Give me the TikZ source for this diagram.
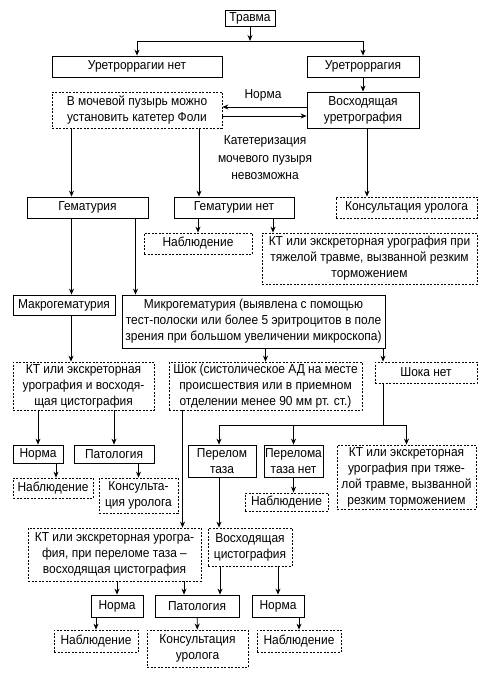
\documentclass[tikz,border=0pt]{standalone}
\usepackage{fontspec}
\setmainfont[FakeStretch=0.92]{Liberation Sans}
\usetikzlibrary{arrows.meta, positioning}

\begin{document}
\begin{tikzpicture}[x=1pt, y=-1pt, font=\fontsize{13}{16}\selectfont, box/.style={draw, align=center, inner sep=0pt, line width=0.8pt}, dbox/.style={box, dash pattern=on 2pt off 1.5pt}, arrow/.style={-{Stealth[length=6pt, width=5pt]}, line width=0.8pt}, lbl/.style={align=center, inner sep=0pt}]
\path[use as bounding box, fill=white] (0,0) rectangle (484,676);

\node[box, minimum width=50pt, minimum height=16pt] (trauma) at (250,18) {Травма};
\coordinate (split1) at (250,41);
\node[box, minimum width=170pt, minimum height=21pt] (noure) at (137,66.5) {Уретроррагии нет};
\node[box, minimum width=112pt, minimum height=21pt] (ure) at (363,66.5) {Уретроррагия};
\node[dbox, minimum width=170pt, minimum height=36pt] (foley) at (137,110) {В мочевой пузырь можно\\установить катетер Фоли};
\node[box, minimum width=112pt, minimum height=36pt] (urethro) at (363,110) {Восходящая\\уретрография};
\node[lbl] (norma0) at (263,95) {Норма};
\node[lbl, font=\fontsize{13}{17.5}\selectfont] (nocath) at (265,158) {Катетеризация\\мочевого пузыря\\невозможна};
\node[box, minimum width=121pt, minimum height=21pt] (gem) at (87.5,207.5) {Гематурия};
\node[box, minimum width=120pt, minimum height=21pt] (nogem) at (234,207.5) {Гематурии нет};
\node[dbox, minimum width=141pt, minimum height=21pt] (consult1) at (406.5,207.5) {Консультация уролога};
\node[dbox, minimum width=108pt, minimum height=21pt] (obs1) at (198,243.5) {Наблюдение};
\node[dbox, minimum width=215pt, minimum height=51pt] (ct1) at (369.5,258.5) {КТ или экскреторная урография при\\тяжелой травме, вызванной резким\\торможением};
\node[box, minimum width=102pt, minimum height=20pt] (macro) at (64,305) {Макрогематурия};
\node[box, minimum width=263pt, minimum height=53pt] (micro) at (253.5,321.5) {Микрогематурия (выявлена с помощью\\тест-полоски или более 5 эритроцитов в поле\\зрения при большом увеличении микроскопа)};
\node[dbox, minimum width=141pt, minimum height=48pt] (ct2) at (83.5,386) {КТ или экскреторная\\урография и восходя-\\щая цистография};
\node[dbox, minimum width=193pt, minimum height=48pt] (shock) at (265.5,386) {Шок (систолическое АД на месте\\происшествия или в приемном\\отделении менее 90 мм рт. ст.)};
\node[dbox, minimum width=102pt, minimum height=21pt] (noshock) at (426,372.5) {Шока нет};
\coordinate (split2) at (383,425);
\node[box, minimum width=50pt, minimum height=18pt] (norm1) at (38,454) {Норма};
\node[box, minimum width=80pt, minimum height=18pt] (path1) at (114,454) {Патология};
\node[dbox, minimum width=80pt, minimum height=20pt] (obs2) at (53,488) {Наблюдение};
\node[dbox, minimum width=79pt, minimum height=35pt] (consult2) at (138.5,495.5) {Консульта-\\ция уролога};
\node[box, minimum width=68pt, minimum height=32pt] (pelvis) at (222,461) {Перелом\\таза};
\node[box, minimum width=59pt, minimum height=32pt] (nopelvis) at (293.5,461) {Перелома\\таза нет};
\node[dbox, minimum width=83pt, minimum height=18pt] (obs3) at (286.5,502) {Наблюдение};
\node[dbox, minimum width=139pt, minimum height=64pt] (ct3) at (406.5,477) {КТ или экскреторная\\урография при тяже-\\лой травме, вызванной\\резким торможением};
\node[dbox, minimum width=173pt, minimum height=53pt] (ct4) at (114.5,554.5) {КТ или экскреторная урогра-\\фия, при переломе таза –\\восходящая цистография};
\node[dbox, minimum width=84pt, minimum height=38pt] (cysto) at (250,547) {Восходящая\\цистография};
\node[box, minimum width=52pt, minimum height=22pt] (norm2) at (117,606) {Норма};
\node[box, minimum width=84pt, minimum height=22pt] (path2) at (197,606) {Патология};
\node[box, minimum width=52pt, minimum height=22pt] (norm3) at (278,606) {Норма};
\node[dbox, minimum width=84pt, minimum height=22pt] (obs4) at (96,641) {Наблюдение};
\node[dbox, minimum width=101pt, minimum height=37pt] (consult3) at (197.5,648.5) {Консультация\\уролога};
\node[dbox, minimum width=84pt, minimum height=22pt] (obs5) at (299,641) {Наблюдение};

\draw[arrow] (trauma)--(split1);\draw[arrow] (split1)-|(noure.north);\draw[arrow] (split1)-|(ure.north);\draw[arrow] (ure)--(urethro);
\draw[arrow] ([yshift=3pt]urethro.west)--([yshift=3pt]foley.east);\draw[arrow] ([yshift=-6pt]foley.east)--([yshift=-6pt]urethro.west);
\draw[arrow] ([xshift=-16pt]gem.north |- foley.south)--([xshift=-16pt]gem.north);\draw[arrow] ([xshift=-35pt]nogem.north |- foley.south)--([xshift=-35pt]nogem.north);\draw[arrow] ([xshift=4pt]urethro.south)--([xshift=4pt]urethro.south |- consult1.north);
\draw[arrow] (obs1.north |- nogem.south)--(obs1.north);\draw[arrow] ([xshift=39pt]nogem.south)--([xshift=39pt]nogem.south |- ct1.north);
\draw[arrow] ([xshift=-16pt]gem.south)--([xshift=-16pt]gem.south |- macro.north);\draw[arrow] ([xshift=48pt]gem.south)--([xshift=48pt]gem.south |- micro.north);
\draw[arrow] ([xshift=7pt]macro.south)--([xshift=7pt]macro.south |- ct2.north);\draw[arrow] (shock.north |- micro.south)--(shock.north);\draw[arrow] ([xshift=-43pt]noshock.north |- micro.south)--([xshift=-43pt]noshock.north);
\draw[arrow] (norm1.north |- ct2.south)--(norm1.north);\draw[arrow] (path1.north |- ct2.south)--(path1.north);\draw[arrow] ([xshift=18pt]norm1.south)--([xshift=18pt]norm1.south |- obs2.north);\draw[arrow] (consult2.north |- path1.south)--(consult2.north);
\draw[line width=0.8pt] (split2 |- noshock.south)--(split2);\draw[arrow] (split2)-|([xshift=-3pt]pelvis.north);\draw[arrow] (split2)-|(nopelvis.north);\draw[arrow] (split2)-|(ct3.north);
\draw[arrow] ([xshift=68pt]ct4.north |- shock.south)--([xshift=68pt]ct4.north);\draw[arrow] ([xshift=-3pt]pelvis.south)--([xshift=-3pt]pelvis.south |- cysto.north);\draw[arrow] (nopelvis.south)--(nopelvis.south |- obs3.north);
\draw[arrow] (norm2.north |- ct4.south)--(norm2.north);\draw[arrow] ([xshift=-13pt]path2.north |- ct4.south)--([xshift=-13pt]path2.north);\draw[arrow] ([xshift=23pt]path2.north |- cysto.south)--([xshift=23pt]path2.north);\draw[arrow] (norm3.north |- cysto.south)--(norm3.north);
\draw[arrow] (obs4.north |- norm2.south)--(obs4.north);\draw[arrow] (path2)--(consult3);\draw[arrow] (obs5.north |- norm3.south)--(obs5.north);

\end{tikzpicture}
\end{document}
